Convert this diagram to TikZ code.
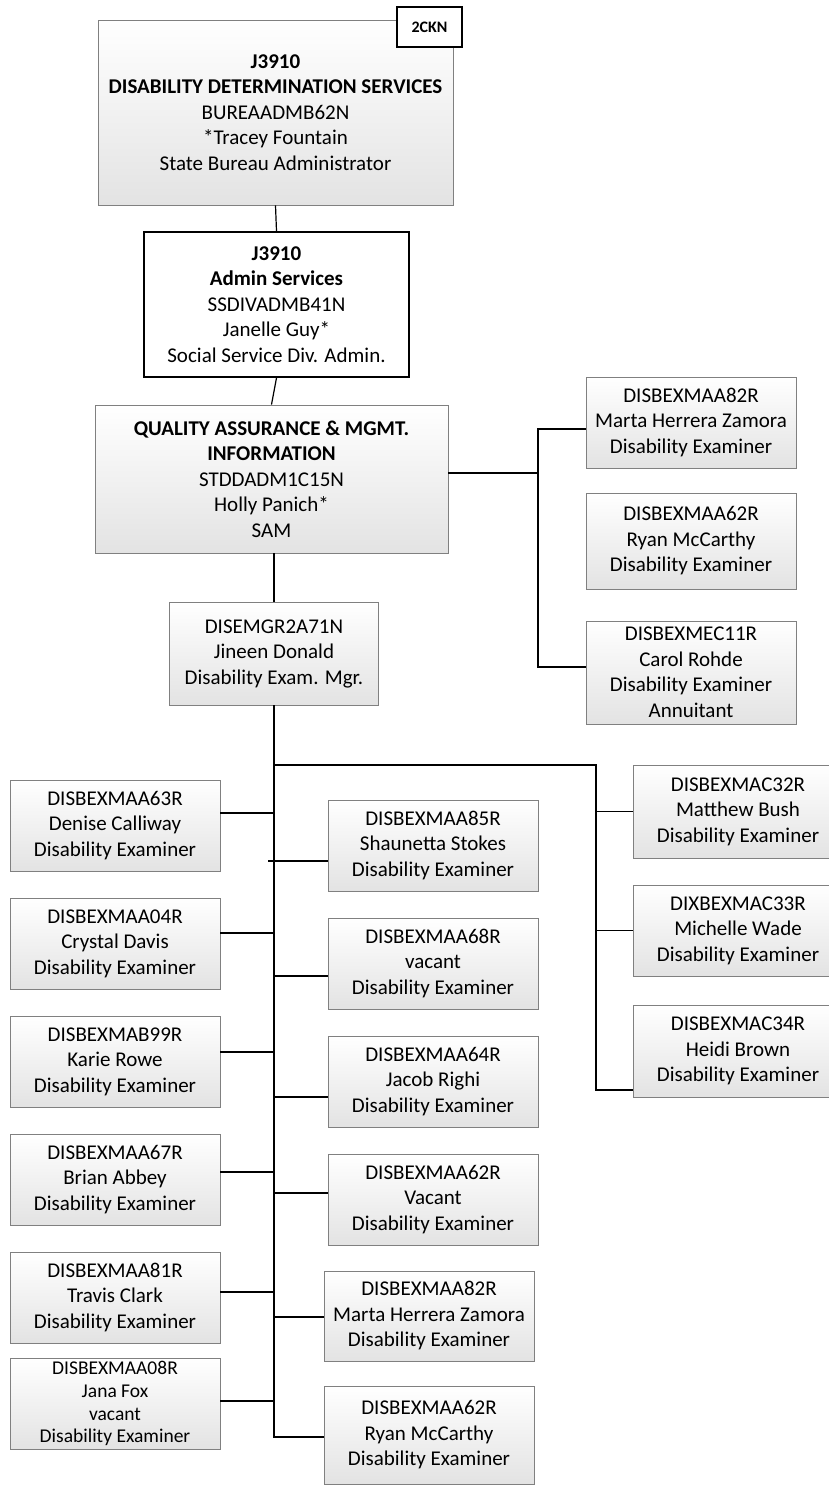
\documentclass[tikz,border=0pt]{standalone}
\usepackage{fontspec}
\setmainfont{Carlito}
\newcommand{\boxfont}{\fontsize{21}{25.5}\selectfont}
\newcommand{\tightfont}{\fontsize{19.5}{22.8}\selectfont}
\tikzset{
	unit/.style={draw=black!50, line width=0.9pt, top color=white, bottom color=black!11,
		align=center, font=\boxfont, inner sep=0pt, minimum width=210pt, minimum height=91pt},
	head/.style={draw=black, line width=1.8pt, fill=white, align=center, font=\boxfont, inner sep=0pt},
	link/.style={line width=1.6pt},
	thinlink/.style={line width=1.2pt},
}
\begin{document}
\begin{tikzpicture}[x=1pt,y=-1pt]
	\useasboundingbox (0,0) rectangle (829,1486);
	% management chain
	\node[unit, minimum width=355pt, minimum height=185pt] (dds) at (275.5,112.5)
		{\textbf{J3910}\\\textbf{DISABILITY DETERMINATION SERVICES}\\BUREAADMB62N\\*Tracey Fountain\\State Bureau Administrator};
	\node[head, minimum width=65pt, minimum height=40pt, font=\fontsize{16}{18}\selectfont\bfseries] (ckn) at (429.5,27) {2CKN};
	\node[head, minimum width=265pt, minimum height=145pt] (admin) at (276.5,304.5)
		{\textbf{J3910}\\\textbf{Admin Services}\\SSDIVADMB41N\\Janelle Guy*\\Social Service Div. Admin.};
	\node[unit, minimum width=353pt, minimum height=148pt] (qa) at (271.5,479)
		{\textbf{QUALITY ASSURANCE \& MGMT.}\\\textbf{INFORMATION}\\STDDADM1C15N\\Holly Panich*\\SAM};
	\node[unit, minimum width=209pt, minimum height=103pt] (mgr) at (274,653.5)
		{DISEMGR2A71N\\Jineen Donald\\Disability Exam. Mgr.};
	\draw[thinlink] (dds.south) -- (admin.north);
	\draw[thinlink] (admin.south) -- (qa.north);
	\draw[thinlink] (qa.south -| mgr.north) -- (mgr.north);
	% examiners beside QA
	\node[unit] (qaMarta) at (691,422.5) {DISBEXMAA82R\\Marta Herrera Zamora\\Disability Examiner};
	\node[unit, minimum height=96pt] (qaRyan) at (691,541) {DISBEXMAA62R\\Ryan McCarthy\\Disability Examiner};
	\node[unit, minimum height=103pt] (qaCarol) at (691,672.5) {DISBEXMEC11R\\Carol Rohde\\Disability Examiner\\Annuitant};
	\coordinate (qaJoin) at (538,473);
	\coordinate (qaTop) at (538,429);
	\coordinate (qaBot) at (538,667);
	\draw[link] (qa.east |- qaJoin) -- (qaJoin);
	\draw[link] (qaMarta.west |- qaTop) -- (qaTop) -- (qaBot) -- (qaCarol.west |- qaBot);
	% left column
	\node[unit] (denise) at (115,825.5) {DISBEXMAA63R\\Denise Calliway\\Disability Examiner};
	\node[unit] (crystal) at (115,943.5) {DISBEXMAA04R\\Crystal Davis\\Disability Examiner};
	\node[unit] (karie) at (115,1061.5) {DISBEXMAB99R\\Karie Rowe\\Disability Examiner};
	\node[unit] (brian) at (115,1179.5) {DISBEXMAA67R\\Brian Abbey\\Disability Examiner};
	\node[unit] (travis) at (115,1297.5) {DISBEXMAA81R\\Travis Clark\\Disability Examiner};
	\node[unit, font=\tightfont] (jana) at (115,1403.5) {DISBEXMAA08R\\Jana Fox\\vacant\\Disability Examiner};
	% middle column
	\node[unit] (shaunetta) at (433,845.5) {DISBEXMAA85R\\Shaunetta Stokes\\Disability Examiner};
	\node[unit] (vacantA) at (433,963.5) {DISBEXMAA68R\\vacant\\Disability Examiner};
	\node[unit] (jacob) at (433,1081.5) {DISBEXMAA64R\\Jacob Righi\\Disability Examiner};
	\node[unit] (vacantB) at (433,1199.5) {DISBEXMAA62R\\Vacant\\Disability Examiner};
	\node[unit, minimum height=90pt] (marta) at (429,1316) {DISBEXMAA82R\\Marta Herrera Zamora\\Disability Examiner};
	\node[unit, minimum height=98pt] (ryan) at (429,1435) {DISBEXMAA62R\\Ryan McCarthy\\Disability Examiner};
	% right column
	\node[unit, minimum height=93pt] (matthew) at (738,811.5) {DISBEXMAC32R\\Matthew Bush\\Disability Examiner};
	\node[unit] (michelle) at (738,930.5) {DIXBEXMAC33R\\Michelle Wade\\Disability Examiner};
	\node[unit, minimum height=92pt] (heidi) at (738,1051) {DISBEXMAC34R\\Heidi Brown\\Disability Examiner};
	% main bus
	\coordinate (fork) at (274,765);
	\coordinate (busEnd) at (274,1437);
	\coordinate (rightEnd) at (596,1090);
	\draw[link] (mgr.south) -- (busEnd) -- (ryan.west |- busEnd);
	\draw[link] (fork) -| (rightEnd) -- (heidi.west |- rightEnd);
	\foreach \n in {matthew, michelle}
		\draw[link] (\n.west) -- (\n.west -| rightEnd);
	\foreach \n/\dy in {denise/12.5, crystal/10.5, karie/9.5, brian/7.5, travis/5.5, jana/2.5}{
		\path ([yshift=\dy pt]\n.east) coordinate (tap);
		\draw[link] (tap) -- (tap -| fork);
	}
	\foreach \n/\dy in {vacantA/-12.5, jacob/-15.5, vacantB/6.5, marta/-1}{
		\path ([yshift=\dy pt]\n.west) coordinate (tap);
		\draw[link] (tap) -- (tap -| fork);
	}
	\path ([yshift=-15.5pt]shaunetta.west) coordinate (tap);
	\draw[link] (tap) -- (tap -| fork) -- ++(-6,0);
\end{tikzpicture}
\end{document}
